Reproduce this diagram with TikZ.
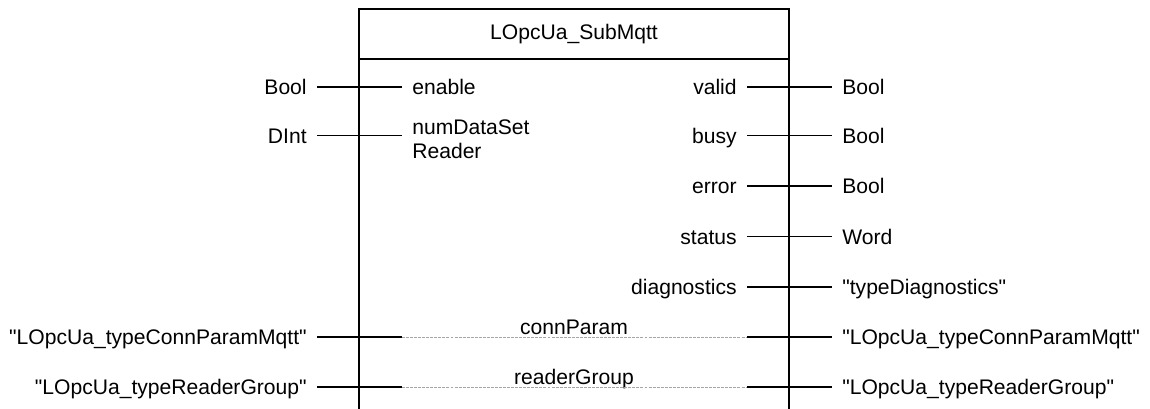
\documentclass[tikz,border=0pt]{standalone}
\usepackage{fontspec}
\setmainfont{Liberation Sans}
\font\plainsans="Liberation Sans" at 12pt
\begin{document}
\begin{tikzpicture}[font=\plainsans,
  wire/.style={line width=0.6pt},
  ghost/.style={line width=0.5pt, gray!70, dash pattern=on 1.7pt off 0.6pt},
  lbl/.style={inner xsep=0.2cm, inner ysep=0pt, text height=8.6pt, text depth=0pt},
  ltype/.style={lbl, anchor=east},
  rtype/.style={lbl, anchor=west},
  lpin/.style={lbl, anchor=west},
  rpin/.style={lbl, anchor=east}]
\useasboundingbox (0,0) rectangle (23,8.16);
\draw[wire] (7.18,-0.1) |- (15.78,7.98) -- (15.78,-0.1);
\draw[wire] (7.18,6.98) -- (15.78,6.98);
\node (title) at (11.48,7.48) {LOpcUa\_SubMqtt};
\node[ltype] (tEnable) at (6.34,6.42) {Bool};
\node[lpin] (pEnable) at (8.04,6.42) {enable};
\draw[wire] (tEnable) -- (pEnable);
\node[ltype] (tNum) at (6.34,5.45) {DInt};
\node[inner xsep=0.2cm, inner ysep=0pt, anchor=north west, align=left,
  font={\plainsans\baselineskip=13.8pt}] (pNum) at (8.04,5.78) {numDataSet\\Reader};
\draw[wire] (tNum) -- (tNum -| pNum.west);
\node[rpin] (pValid) at (14.94,6.42) {valid};
\node[rtype] (tValid) at (16.64,6.42) {Bool};
\draw[wire] (pValid) -- (tValid);
\node[rpin] (pBusy) at (14.94,5.45) {busy};
\node[rtype] (tBusy) at (16.64,5.45) {Bool};
\draw[wire] (pBusy) -- (tBusy);
\node[rpin] (pError) at (14.94,4.44) {error};
\node[rtype] (tError) at (16.64,4.44) {Bool};
\draw[wire] (pError) -- (tError);
\node[rpin] (pStatus) at (14.94,3.43) {status};
\node[rtype] (tStatus) at (16.64,3.43) {Word};
\draw[wire] (pStatus) -- (tStatus);
\node[rpin] (pDiag) at (14.94,2.42) {diagnostics};
\node[rtype] (tDiag) at (16.64,2.42) {"typeDiagnostics"};
\draw[wire] (pDiag) -- (tDiag);
\node[ltype] (tConnIn) at (6.34,1.42) {"LOpcUa\_typeConnParamMqtt"};
\node[rtype] (tConnOut) at (16.64,1.42) {"LOpcUa\_typeConnParamMqtt"};
\node[anchor=base] (pConn) at (11.48,1.48) {connParam};
\draw[wire] (tConnIn) -- (tConnIn -| pEnable.west);
\draw[ghost] (tConnIn -| pEnable.west) -- (tConnOut -| pValid.east);
\draw[wire] (tConnOut -| pValid.east) -- (tConnOut);
\node[ltype] (tGroupIn) at (6.34,0.42) {"LOpcUa\_typeReaderGroup"};
\node[rtype] (tGroupOut) at (16.64,0.42) {"LOpcUa\_typeReaderGroup"};
\node[anchor=base] (pGroup) at (11.48,0.48) {readerGroup};
\draw[wire] (tGroupIn) -- (tGroupIn -| pEnable.west);
\draw[ghost] (tGroupIn -| pEnable.west) -- (tGroupOut -| pValid.east);
\draw[wire] (tGroupOut -| pValid.east) -- (tGroupOut);
\end{tikzpicture}
\end{document}
